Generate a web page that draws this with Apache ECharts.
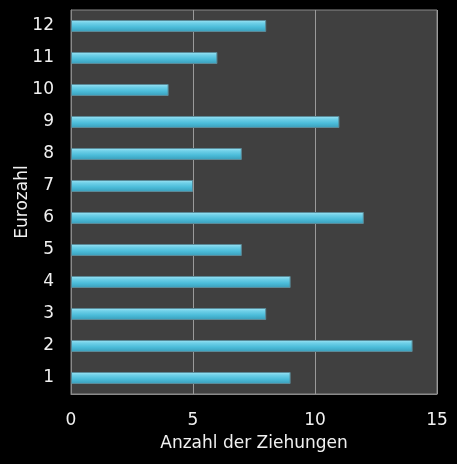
<!DOCTYPE html>
<html lang="de">
<head>
<meta charset="UTF-8">
<title>Eurozahl</title>
<script src="https://cdn.jsdelivr.net/npm/echarts@6/dist/echarts.min.js"></script>
<style>
	html, body { margin: 0; padding: 0; background: #000; }
	#chart { width: 457px; height: 464px; }
</style>
</head>
<body>
<div id="chart"></div>
<script>
var eurozahlen = ['1', '2', '3', '4', '5', '6', '7', '8', '9', '10', '11', '12'];
var ziehungen = [9, 14, 8, 9, 7, 12, 5, 7, 11, 4, 6, 8];
var xTicks = [0, 5, 10, 15];

var chart = echarts.init(document.getElementById('chart'));
chart.setOption({
	backgroundColor: '#000',
	animation: false,
	textStyle: { fontFamily: 'DejaVu Sans' },
	grid: {
		left: 71, right: 20, top: 10, bottom: 70,
		outerBoundsMode: 'none',
		containLabel: false,
		show: true,
		backgroundColor: '#404040',
		borderColor: '#8a8a8a',
		borderWidth: 1
	},
	xAxis: {
		type: 'value',
		min: xTicks[0],
		max: xTicks[xTicks.length - 1],
		interval: 5,
		name: 'Anzahl der Ziehungen',
		nameLocation: 'middle',
		nameGap: 41,
		nameMoveOverlap: false,
		nameTextStyle: { color: '#f0f0f0', fontSize: 17 },
		axisLine: { show: true, lineStyle: { color: '#8a8a8a' } },
		axisTick: { show: false },
		axisLabel: { color: '#f0f0f0', fontSize: 17, margin: 18 },
		splitLine: { show: true, lineStyle: { color: '#9a9a9a', width: 1 } }
	},
	yAxis: {
		type: 'category',
		data: eurozahlen,
		name: 'Eurozahl',
		nameLocation: 'middle',
		nameGap: 40,
		nameMoveOverlap: false,
		nameRotate: 90,
		nameTextStyle: { color: '#f0f0f0', fontSize: 17 },
		axisLine: { show: true, lineStyle: { color: '#8a8a8a' } },
		axisTick: { show: false },
		axisLabel: { color: '#f0f0f0', fontSize: 17, margin: 17 }
	},
	series: [{
		type: 'bar',
		data: ziehungen,
		barWidth: 12,
		itemStyle: {
			color: new echarts.graphic.LinearGradient(0, 0, 0, 1, [
				{ offset: 0, color: '#a4e6f5' },
				{ offset: 0.25, color: '#6fd0e8' },
				{ offset: 0.6, color: '#4bbcd9' },
				{ offset: 1, color: '#3a9cb8' }
			]),
			borderColor: '#5a8a98',
			borderWidth: 1
		}
	}]
});
</script>
</body>
</html>
